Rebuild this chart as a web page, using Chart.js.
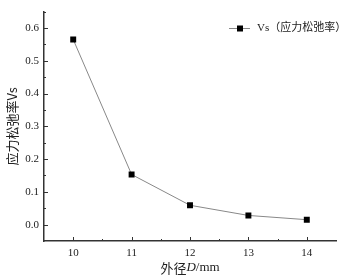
<!DOCTYPE html>
<html>
<head>
    <meta charset="utf-8" />
    <title></title>
    <script src="https://cdn.jsdelivr.net/npm/chart.js"></script>
    <style>
        html, body { margin: 0; padding: 0; background: #fff; }
        #wrap { width: 356px; height: 278px; }
    </style>
</head>
<body>
    <div id="wrap"><canvas id="chart" width="356" height="278"></canvas></div>

    <script type="text/javascript">
        // datos
        var diametros = [10, 11, 12, 13, 14];
        var relajacion = [0.565, 0.153, 0.059, 0.028, 0.015];
        var etiquetaSerie = 'Vs（应力松弛率）';
        var tituloY = '应力松弛率Vs';

        var fuenteNum = '"Liberation Serif", "Noto Sans CJK SC", serif';

        // ticks hacia adentro, leyenda y titulo del eje x
        var extras = {
            id: 'extras',
            afterDraw: function (chart) {
                var ctx = chart.ctx;
                var area = chart.chartArea;
                var sx = chart.scales.x, sy = chart.scales.y;
                var ds = chart.data.datasets[0];
                ctx.save();
                ctx.strokeStyle = '#333';
                ctx.lineWidth = 1;
                ctx.beginPath();
                sx.ticks.forEach(function (t) {
                    if (t.value <= sx.min || t.value >= sx.max) return;
                    var px = Math.round(sx.getPixelForValue(t.value)) + 0.5;
                    var largo = Number.isInteger(Math.round(t.value * 100) / 100) ? 4 : 2;
                    ctx.moveTo(px, area.bottom);
                    ctx.lineTo(px, area.bottom - largo);
                });
                sy.ticks.forEach(function (t) {
                    if (t.value <= sy.min + 1e-9) return;
                    var py = Math.round(sy.getPixelForValue(t.value)) + 0.5;
                    var k = Math.round(t.value * 100);
                    var largo = (k % 10 === 0) ? 4 : 2;
                    ctx.moveTo(area.left, py);
                    ctx.lineTo(area.left + largo, py);
                });
                ctx.stroke();

                // leyenda
                var lx = 229, ly = 28.5;
                ctx.strokeStyle = ds.borderColor;
                ctx.lineWidth = 1;
                ctx.beginPath();
                ctx.moveTo(lx, ly);
                ctx.lineTo(lx + 21, ly);
                ctx.stroke();
                ctx.fillStyle = '#000';
                ctx.fillRect(lx + 8, ly - 3, 6, 6);
                ctx.fillStyle = '#222';
                ctx.font = '11px ' + fuenteNum;
                ctx.textBaseline = 'middle';
                ctx.fillText(ds.label, 257, ly);

                // titulo del eje x con D en cursiva
                var partes = [
                    { t: '外径', f: '13px "Noto Sans CJK SC", serif' },
                    { t: 'D', f: 'italic 13px "Liberation Serif", serif' },
                    { t: '/mm', f: '13px "Liberation Serif", serif' }
                ];
                var total = 0;
                partes.forEach(function (p) { ctx.font = p.f; p.w = ctx.measureText(p.t).width; total += p.w; });
                var x = 190 - total / 2;
                partes.forEach(function (p) { ctx.font = p.f; ctx.fillText(p.t, x, 268); x += p.w; });
                ctx.restore();
            }
        };

        var ctx = document.getElementById('chart').getContext('2d');
        var myChart = new Chart(ctx, {
            type: 'line',
            data: {
                datasets: [{
                    label: etiquetaSerie,
                    data: diametros.map(function (d, i) { return { x: d, y: relajacion[i] }; }),
                    borderColor: '#888',
                    borderWidth: 1,
                    pointStyle: 'rect',
                    pointRadius: 4.2,
                    pointBorderWidth: 0,
                    pointBackgroundColor: '#000',
                    pointBorderColor: '#000',
                    tension: 0
                }]
            },
            options: {
                responsive: false,
                animation: false,
                layout: { padding: { top: 5, right: 20, left: 0, bottom: 0 } },
                plugins: {
                    tooltip: { enabled: false },
                    legend: { display: false }
                },
                scales: {
                    x: {
                        type: 'linear',
                        min: 9.5,
                        max: 14.5,
                        grid: { display: false, drawTicks: false },
                        border: { display: true, color: '#333', width: 1.5 },
                        ticks: {
                            stepSize: 0.5,
                            padding: 6,
                            color: '#222',
                            maxRotation: 0,
                            autoSkip: false,
                            font: { size: 11, family: fuenteNum },
                            callback: function (v) {
                                return (Number.isInteger(v) && v >= 10 && v <= 14) ? String(v) : '';
                            }
                        },
                        afterFit: function (s) { s.height = 37; }
                    },
                    y: {
                        min: -0.05,
                        max: 0.65,
                        grid: { display: false, drawTicks: false },
                        border: { display: true, color: '#333', width: 1.5 },
                        ticks: {
                            stepSize: 0.05,
                            padding: 5,
                            color: '#222',
                            autoSkip: false,
                            font: { size: 11, family: fuenteNum },
                            callback: function (v) {
                                var k = Math.round(v * 100);
                                return (k % 10 === 0 && k >= 0 && k <= 60) ? (k / 100).toFixed(1) : '';
                            }
                        },
                        title: {
                            display: true,
                            text: tituloY,
                            color: '#222',
                            padding: { top: 4, bottom: 0 },
                            font: { size: 13, family: '"Noto Sans CJK SC", serif' }
                        },
                        afterFit: function (s) { s.width = 44; }
                    }
                }
            },
            plugins: [extras]
        });
    </script>
</body>
</html>
